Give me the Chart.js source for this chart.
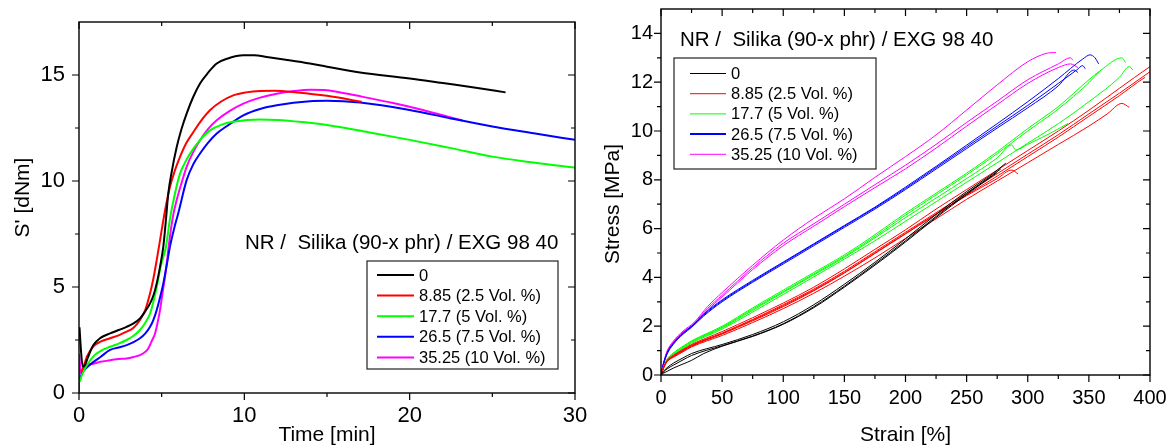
<!DOCTYPE html>
<html>
<head>
<meta charset="utf-8">
<title>NR / Silika / EXG 98 40</title>
<script src="https://cdn.jsdelivr.net/npm/chart.js@4.4.1/dist/chart.umd.min.js"></script>
<style>
    body { margin: 0; background: #fff; }
    #wrap { position: relative; width: 1173px; height: 446px; }
    .panel { position: absolute; top: 0; }
</style>
</head>
<body>
<div id="wrap">
    <canvas id="cureChart" class="panel" style="left:0" width="590" height="446"></canvas>
    <canvas id="tensileChart" class="panel" style="left:590px" width="583" height="446"></canvas>
</div>
<script>
// Compound labels and colours (same for both panels)
const compoundLabels = ['0', '8.85 (2.5 Vol. %)', '17.7 (5 Vol. %)', '26.5 (7.5 Vol. %)', '35.25 (10 Vol. %)'];
const compoundColors = ['#000000', '#ff0000', '#00ff00', '#0000ff', '#ff00ff'];
const titleText = 'NR /  Silika (90-x phr) / EXG 98 40';

// Cure curves: time [min] and S' [dNm]
const cureTime0 = [0.03, 0.12, 0.22, 0.35, 0.55, 0.87, 1.3, 1.88, 2.4, 2.88, 3.3, 3.69, 4.0, 4.3, 4.5, 4.7, 4.9, 5.1, 5.25, 5.4, 5.6, 5.91, 6.2, 6.51, 6.9, 7.32, 7.8, 8.33, 9.0, 9.94, 10.6, 11.36, 12.5, 13.97, 15.0, 17.0, 20.0, 22.0, 24.0, 25.8];
const cureS0 = [3.1, 2.0, 1.25, 1.3, 1.7, 2.26, 2.6, 2.81, 2.97, 3.12, 3.28, 3.52, 3.85, 4.23, 4.6, 5.17, 5.95, 6.9, 8.1, 9.41, 10.4, 11.6, 12.45, 13.18, 13.95, 14.6, 15.1, 15.54, 15.78, 15.93, 15.93, 15.85, 15.72, 15.54, 15.39, 15.12, 14.84, 14.62, 14.4, 14.18];

const cureTime1 = [0.12, 0.25, 0.5, 0.87, 1.3, 1.88, 2.4, 2.88, 3.3, 3.69, 4.0, 4.3, 4.5, 4.7, 4.9, 5.1, 5.3, 5.5, 5.8, 6.11, 6.5, 6.92, 7.4, 7.92, 8.6, 9.33, 10.1, 10.95, 11.8, 13.2, 15.0, 17.1];
const cureS1 = [1.0, 1.2, 1.75, 2.2, 2.42, 2.58, 2.72, 2.89, 3.08, 3.44, 3.9, 4.7, 5.4, 6.27, 7.2, 8.15, 9.0, 9.72, 10.5, 11.14, 11.8, 12.31, 12.86, 13.34, 13.75, 14.04, 14.18, 14.25, 14.26, 14.18, 14.02, 13.74];

const cureTime2 = [0.04, 0.2, 0.47, 0.87, 1.3, 1.88, 2.4, 2.88, 3.3, 3.69, 4.0, 4.3, 4.5, 4.7, 4.95, 5.26, 5.5, 5.8, 6.11, 6.5, 6.92, 7.4, 7.92, 8.6, 9.33, 10.95, 12.0, 13.5, 15.0, 17.5, 20.0, 22.5, 25.0, 27.5, 30.0];
const cureS2 = [0.53, 0.9, 1.3, 1.73, 1.98, 2.18, 2.33, 2.5, 2.7, 2.97, 3.3, 3.75, 4.3, 5.0, 6.0, 6.9, 8.2, 9.4, 10.35, 11.0, 11.53, 12.0, 12.39, 12.65, 12.79, 12.9, 12.88, 12.78, 12.64, 12.3, 11.94, 11.55, 11.15, 10.87, 10.63];

const cureTime3 = [0.04, 0.2, 0.47, 0.87, 1.3, 1.88, 2.4, 2.88, 3.3, 3.69, 4.0, 4.3, 4.5, 4.7, 4.9, 5.1, 5.3, 5.5, 5.8, 6.0, 6.51, 6.92, 7.32, 7.8, 8.33, 9.0, 9.94, 10.95, 11.96, 13.97, 15.0, 17.0, 20.0, 22.5, 25.0, 27.5, 30.0];
const cureS3 = [0.6, 0.95, 1.2, 1.46, 1.7, 2.03, 2.15, 2.26, 2.4, 2.58, 2.8, 3.12, 3.45, 3.91, 4.5, 5.17, 6.0, 6.9, 7.9, 8.47, 10.04, 10.8, 11.3, 11.8, 12.24, 12.62, 13.1, 13.4, 13.57, 13.76, 13.78, 13.7, 13.35, 12.95, 12.57, 12.25, 11.94];

const cureTime4 = [0, 0.02, 0.07, 0.14, 0.25, 0.47, 0.87, 1.3, 1.88, 2.4, 2.88, 3.3, 3.69, 4.0, 4.19, 4.4, 4.6, 4.75, 4.9, 5.05, 5.2, 5.35, 5.5, 5.7, 5.91, 6.2, 6.51, 6.9, 7.32, 7.8, 8.33, 9.1, 9.94, 10.9, 11.96, 13.0, 14.0, 15.0, 16.0, 17.1, 19.0, 20.8, 22.0, 23.2];
const cureS4 = [0.05, 1.8, 1.2, 0.9, 1.05, 1.3, 1.38, 1.47, 1.55, 1.6, 1.63, 1.7, 1.79, 1.93, 2.1, 2.45, 2.81, 3.3, 3.91, 4.7, 5.48, 6.4, 7.37, 8.4, 9.1, 9.9, 10.67, 11.35, 11.92, 12.45, 12.87, 13.3, 13.65, 13.92, 14.12, 14.24, 14.3, 14.28, 14.15, 13.98, 13.68, 13.35, 13.1, 12.85];

const timeTicks = [0, 10, 20, 30];
const timeMinor = [5, 15, 25];
const cureTicks = [0, 5, 10, 15];
const cureMinor = [2.5, 7.5, 12.5];

// Tensile tests: strain [%] and stress [MPa], several specimens per compound
const strain0a = [0, 2, 5, 10, 18, 25, 50, 75, 100, 125, 150, 175, 200, 225, 250, 270, 282];
const stress0a = [0, 0.15, 0.3, 0.48, 0.7, 0.88, 1.25, 1.66, 2.18, 2.88, 3.72, 4.62, 5.58, 6.58, 7.52, 8.2, 8.68];
const strain0b = [0, 2, 5, 10, 18, 25, 50, 75, 100, 125, 150, 175, 200, 225, 250, 270, 278];
const stress0b = [0, 0.12, 0.25, 0.4, 0.62, 0.8, 1.2, 1.6, 2.1, 2.8, 3.64, 4.55, 5.5, 6.5, 7.45, 8.15, 8.45];
const strain0c = [0, 2, 5, 10, 18, 25, 35, 50, 75, 100, 125, 150, 175, 200, 225, 250, 275];
const stress0c = [0, 0.07, 0.15, 0.28, 0.45, 0.6, 0.88, 1.18, 1.58, 2.08, 2.76, 3.6, 4.5, 5.45, 6.45, 7.4, 8.3];

const strain1a = [0, 2, 5, 10, 18, 25, 50, 75, 100, 125, 150, 175, 200, 225, 250, 275, 300, 325, 350, 375, 400, 405];
const stress1a = [0, 0.3, 0.6, 0.8, 1.05, 1.25, 1.78, 2.35, 2.95, 3.6, 4.35, 5.15, 5.95, 6.8, 7.6, 8.4, 9.2, 10.0, 10.85, 11.75, 12.64, 12.8];
const strain1b = [0, 2, 5, 10, 18, 25, 50, 75, 100, 125, 150, 175, 200, 225, 250, 275, 300, 325, 350, 375, 400, 405];
const stress1b = [0, 0.29, 0.58, 0.78, 1.02, 1.22, 1.72, 2.28, 2.88, 3.52, 4.25, 5.05, 5.85, 6.65, 7.45, 8.25, 9.05, 9.85, 10.7, 11.55, 12.43, 12.6];
const strain1c = [0, 2, 5, 10, 18, 25, 50, 75, 100, 125, 150, 175, 200, 225, 250, 275, 300, 325, 350, 375, 390, 396];
const stress1c = [0, 0.28, 0.56, 0.75, 0.98, 1.18, 1.68, 2.22, 2.8, 3.45, 4.18, 4.98, 5.78, 6.58, 7.38, 8.15, 8.95, 9.75, 10.6, 11.45, 12.0, 12.2];
const strain1d = [0, 2, 5, 10, 18, 25, 50, 75, 100, 125, 150, 175, 200, 225, 250, 275, 300, 325, 350, 365, 377, 383];
const stress1d = [0, 0.27, 0.55, 0.72, 0.95, 1.15, 1.62, 2.15, 2.72, 3.35, 4.05, 4.8, 5.6, 6.4, 7.2, 7.95, 8.7, 9.45, 10.2, 10.7, 11.13, 10.97];
const strain1e = [0, 2, 5, 10, 18, 25, 50, 75, 100, 125, 150, 175, 200, 225, 250, 275, 287, 292];
const stress1e = [0, 0.28, 0.57, 0.76, 1.0, 1.2, 1.7, 2.25, 2.84, 3.48, 4.2, 5.0, 5.8, 6.6, 7.35, 8.05, 8.4, 8.24];

const strain2a = [0, 2, 5, 10, 18, 25, 50, 75, 100, 125, 150, 175, 200, 225, 250, 275, 300, 325, 350, 360, 377, 380];
const stress2a = [0, 0.33, 0.65, 0.9, 1.18, 1.4, 2.0, 2.75, 3.48, 4.2, 4.92, 5.75, 6.63, 7.45, 8.27, 9.15, 10.1, 11.0, 12.1, 12.5, 13.0, 12.8];
const strain2b = [0, 2, 5, 10, 18, 25, 50, 75, 100, 125, 150, 175, 200, 225, 250, 275, 300, 325, 350, 360];
const stress2b = [0, 0.32, 0.63, 0.88, 1.15, 1.37, 1.96, 2.7, 3.42, 4.14, 4.86, 5.68, 6.55, 7.38, 8.2, 9.07, 10.0, 10.9, 11.98, 12.5];
const strain2c = [0, 2, 5, 10, 18, 25, 50, 75, 100, 125, 150, 175, 200, 225, 250, 275, 300, 325, 350, 375, 383, 386];
const stress2c = [0, 0.3, 0.6, 0.82, 1.08, 1.3, 1.88, 2.58, 3.3, 4.02, 4.75, 5.5, 6.3, 7.1, 7.9, 8.7, 9.5, 10.3, 11.2, 12.2, 12.64, 12.5];
const strain2d = [0, 2, 5, 10, 18, 25, 50, 75, 100, 125, 150, 175, 200, 225, 250, 275, 287, 290, 300, 320, 333];
const stress2d = [0, 0.31, 0.62, 0.85, 1.12, 1.34, 1.93, 2.65, 3.38, 4.1, 4.82, 5.62, 6.45, 7.25, 8.05, 8.9, 9.43, 9.22, 9.45, 9.95, 10.31];

const strain3a = [0, 2, 5, 10, 18, 25, 35, 50, 75, 100, 125, 150, 175, 200, 225, 250, 275, 300, 325, 345, 351, 355, 358];
const stress3a = [0, 0.45, 0.9, 1.3, 1.72, 2.0, 2.5, 3.08, 3.88, 4.63, 5.38, 6.13, 6.88, 7.7, 8.55, 9.42, 10.3, 11.2, 12.15, 12.95, 13.12, 13.0, 12.75];
const strain3b = [0, 2, 5, 10, 18, 25, 35, 50, 75, 100, 125, 150, 175, 200, 225, 250, 275, 300, 325, 340, 345, 347];
const stress3b = [0, 0.44, 0.88, 1.28, 1.7, 1.98, 2.46, 3.04, 3.84, 4.6, 5.35, 6.1, 6.85, 7.65, 8.5, 9.35, 10.2, 11.05, 11.95, 12.5, 12.68, 12.55];
const strain3c = [0, 2, 5, 10, 18, 25, 35, 50, 75, 100, 125, 150, 175, 200, 225, 250, 275, 300, 325, 338, 341];
const stress3c = [0, 0.43, 0.86, 1.25, 1.67, 1.95, 2.42, 3.0, 3.8, 4.55, 5.3, 6.05, 6.8, 7.6, 8.44, 9.28, 10.12, 10.95, 11.85, 12.5, 12.4];

const strain4a = [0, 2, 5, 10, 18, 27, 38, 50, 75, 100, 125, 150, 175, 200, 225, 250, 275, 300, 315, 323];
const stress4a = [0, 0.48, 0.98, 1.38, 1.8, 2.15, 2.8, 3.38, 4.5, 5.53, 6.42, 7.22, 8.1, 8.95, 9.84, 10.86, 11.89, 12.84, 13.18, 13.22];
const strain4b = [0, 2, 5, 10, 18, 27, 38, 50, 75, 100, 125, 150, 175, 200, 225, 250, 275, 300, 325, 335, 337];
const stress4b = [0, 0.47, 0.96, 1.34, 1.76, 2.1, 2.72, 3.27, 4.4, 5.4, 6.2, 7.0, 7.8, 8.6, 9.45, 10.35, 11.22, 12.1, 12.75, 13.0, 12.9];
const strain4c = [0, 2, 5, 10, 18, 27, 38, 50, 75, 100, 125, 150, 175, 200, 225, 250, 275, 300, 325, 335, 341];
const stress4c = [0, 0.46, 0.94, 1.32, 1.73, 2.06, 2.66, 3.2, 4.32, 5.3, 6.1, 6.9, 7.68, 8.45, 9.3, 10.2, 11.08, 11.95, 12.6, 12.75, 12.6];

const strainTicks = [0, 50, 100, 150, 200, 250, 300, 350, 400];
const strainMinor = [25, 75, 125, 175, 225, 275, 325, 375];
const stressTicks = [0, 2, 4, 6, 8, 10, 12, 14];
const stressMinor = [1, 3, 5, 7, 9, 11, 13];

const FONT = "'Liberation Sans', Arial, sans-serif";
Chart.defaults.font.family = FONT;
Chart.defaults.color = '#000';

const toPoints = (xs, ys) => xs.map((x, i) => ({ x: x, y: ys[i] }));

// Closed frame with ticks: outward on bottom/left, inward on top/right
const framePlugin = {
    id: 'frame',
    afterDatasetsDraw(chart, args, opts) {
        const { ctx, chartArea: a, scales } = chart;
        const xs = scales.x, ys = scales.y;
        ctx.save();
        ctx.strokeStyle = '#000';
        ctx.lineWidth = 1.4;
        ctx.strokeRect(a.left, a.top, a.right - a.left, a.bottom - a.top);
        ctx.lineWidth = 1.2;
        ctx.beginPath();
        const xMarks = (values, len) => values.forEach(v => {
            const px = xs.getPixelForValue(v);
            ctx.moveTo(px, a.bottom); ctx.lineTo(px, a.bottom + len);
            ctx.moveTo(px, a.top); ctx.lineTo(px, a.top + len);
        });
        const yMarks = (values, len) => values.forEach(v => {
            const py = ys.getPixelForValue(v);
            ctx.moveTo(a.left - len, py); ctx.lineTo(a.left, py);
            ctx.moveTo(a.right - len, py); ctx.lineTo(a.right, py);
        });
        xMarks(opts.xMajor, 7);
        xMarks(opts.xMinor, 4);
        yMarks(opts.yMajor, 7);
        yMarks(opts.yMinor, 4);
        ctx.stroke();

        // vertical axis title, shifted a little along the axis
        ctx.fillStyle = '#000';
        ctx.font = '21px ' + FONT;
        ctx.textAlign = 'center';
        ctx.textBaseline = 'middle';
        ctx.translate(opts.yTitleX, (a.top + a.bottom) / 2 + opts.yTitleShift);
        ctx.rotate(-Math.PI / 2);
        ctx.fillText(opts.yTitle, 0, 0);
        ctx.restore();
    }
};

// Title line plus a framed legend inside the plot
const boxLegendPlugin = {
    id: 'boxLegend',
    afterDraw(chart, args, opts) {
        const ctx = chart.ctx;
        ctx.save();
        ctx.fillStyle = '#000';
        ctx.textBaseline = 'middle';
        ctx.font = opts.titleSize + 'px ' + FONT;
        ctx.fillText(titleText, opts.titleX, opts.titleY);

        ctx.fillStyle = '#fff';
        ctx.fillRect(opts.x, opts.y, opts.w, opts.h);
        ctx.strokeStyle = '#222';
        ctx.lineWidth = 1.2;
        ctx.strokeRect(opts.x, opts.y, opts.w, opts.h);

        ctx.font = opts.fontSize + 'px ' + FONT;
        const entries = chart.data.datasets.filter(ds => ds.inLegend);
        entries.forEach((ds, i) => {
            const cy = opts.firstRow + i * opts.rowGap;
            ctx.strokeStyle = ds.borderColor;
            ctx.lineWidth = ds.legendWidth || ds.borderWidth;
            ctx.beginPath();
            ctx.moveTo(opts.lineX, cy);
            ctx.lineTo(opts.lineX + opts.lineLen, cy);
            ctx.stroke();
            ctx.fillStyle = '#000';
            ctx.fillText(ds.label, opts.textX, cy + 1);
        });
        ctx.restore();
    }
};

function fixedAxis(size, tickValues) {
    return {
        afterBuildTicks(scale) {
            scale.ticks = tickValues.map(v => ({ value: v }));
        },
        afterFit(scale) {
            if (scale.isHorizontal()) {
                scale.height = size;
                scale.paddingLeft = 0;
                scale.paddingRight = 0;
            } else {
                scale.width = size;
                scale.paddingTop = 0;
                scale.paddingBottom = 0;
            }
        }
    };
}

// Left panel: vulcanisation curves
const cureSeries = [
    [cureTime0, cureS0], [cureTime1, cureS1], [cureTime2, cureS2], [cureTime3, cureS3], [cureTime4, cureS4]
];

new Chart(document.getElementById('cureChart'), {
    type: 'line',
    data: {
        datasets: cureSeries.map((s, i) => ({
            label: compoundLabels[i],
            data: toPoints(s[0], s[1]),
            borderColor: compoundColors[i],
            borderWidth: 2,
            pointRadius: 0,
            cubicInterpolationMode: 'monotone',
            inLegend: true
        }))
    },
    options: {
        responsive: false,
        animation: false,
        events: [],
        layout: { padding: { top: 22, right: 15, left: 0, bottom: 0 } },
        plugins: {
            legend: { display: false },
            tooltip: { enabled: false },
            frame: {
                xMajor: timeTicks, xMinor: timeMinor, yMajor: cureTicks, yMinor: cureMinor,
                yTitle: "S' [dNm]", yTitleX: 23, yTitleShift: -10
            },
            boxLegend: {
                titleX: 245, titleY: 243, titleSize: 20.5,
                x: 367, y: 261, w: 191, h: 108,
                lineX: 377, lineLen: 37, textX: 419,
                firstRow: 275, rowGap: 20.6, fontSize: 16.5
            }
        },
        scales: {
            x: Object.assign({
                type: 'linear',
                min: 0,
                max: 30,
                grid: { display: false, drawTicks: false },
                border: { display: false },
                ticks: { padding: 10, font: { size: 22 } },
                title: { display: true, text: 'Time [min]', font: { size: 21 }, padding: { top: 0, bottom: -2 } }
            }, fixedAxis(53, timeTicks)),
            y: Object.assign({
                type: 'linear',
                min: 0,
                max: 17.5,
                grid: { display: false, drawTicks: false },
                border: { display: false },
                ticks: { padding: 14, font: { size: 22 } }
            }, fixedAxis(79, cureTicks))
        }
    },
    plugins: [framePlugin, boxLegendPlugin]
});

// Right panel: stress-strain curves
const tensileSeries = [
    [0, strain0a, stress0a], [0, strain0b, stress0b], [0, strain0c, stress0c],
    [1, strain1a, stress1a], [1, strain1b, stress1b], [1, strain1c, stress1c], [1, strain1d, stress1d], [1, strain1e, stress1e],
    [2, strain2a, stress2a], [2, strain2b, stress2b], [2, strain2c, stress2c], [2, strain2d, stress2d],
    [3, strain3a, stress3a], [3, strain3b, stress3b], [3, strain3c, stress3c],
    [4, strain4a, stress4a], [4, strain4b, stress4b], [4, strain4c, stress4c]
];

new Chart(document.getElementById('tensileChart'), {
    type: 'line',
    data: {
        datasets: tensileSeries.map((s, i) => ({
            label: compoundLabels[s[0]],
            data: toPoints(s[1], s[2]),
            borderColor: compoundColors[s[0]],
            borderWidth: 1,
            legendWidth: s[0] === 3 ? 2 : 1,
            pointRadius: 0,
            cubicInterpolationMode: 'monotone',
            inLegend: i === 0 || tensileSeries[i - 1][0] !== s[0]
        }))
    },
    options: {
        responsive: false,
        animation: false,
        events: [],
        layout: { padding: { top: 9, right: 23, left: 0, bottom: 0 } },
        plugins: {
            legend: { display: false },
            tooltip: { enabled: false },
            frame: {
                xMajor: strainTicks, xMinor: strainMinor, yMajor: stressTicks, yMinor: stressMinor,
                yTitle: 'Stress [MPa]', yTitleX: 23, yTitleShift: 12
            },
            boxLegend: {
                titleX: 90, titleY: 40, titleSize: 20.5,
                x: 84, y: 58, w: 202, h: 111,
                lineX: 100, lineLen: 36, textX: 141,
                firstRow: 73.5, rowGap: 20.2, fontSize: 16.5
            }
        },
        scales: {
            x: Object.assign({
                type: 'linear',
                min: 0,
                max: 400,
                grid: { display: false, drawTicks: false },
                border: { display: false },
                ticks: { padding: 11, font: { size: 20 } },
                title: { display: true, text: 'Strain [%]', font: { size: 21 }, padding: { top: 0, bottom: -2 } }
            }, fixedAxis(71, strainTicks)),
            y: Object.assign({
                type: 'linear',
                min: 0,
                max: 15,
                grid: { display: false, drawTicks: false },
                border: { display: false },
                ticks: { padding: 8, font: { size: 20 } }
            }, fixedAxis(71, stressTicks))
        }
    },
    plugins: [framePlugin, boxLegendPlugin]
});
</script>
</body>
</html>
